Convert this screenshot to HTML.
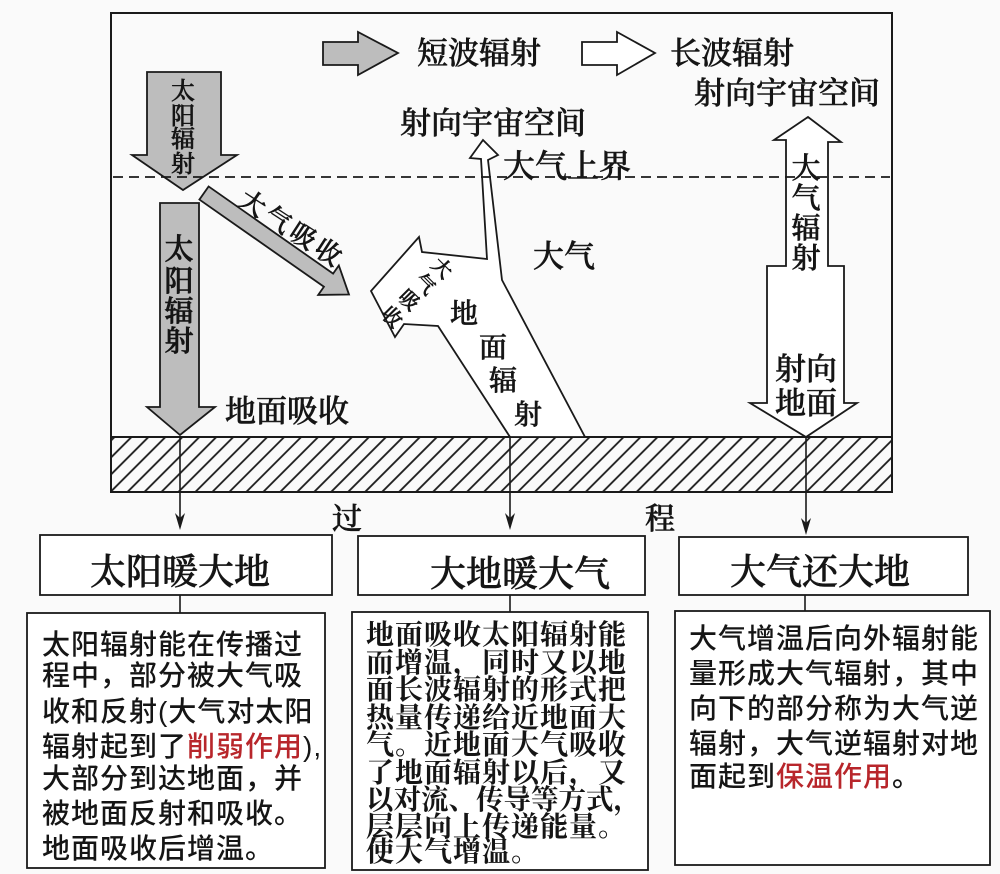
<!DOCTYPE html>
<html>
<head>
<meta charset="utf-8">
<style>
  html,body{margin:0;padding:0;background:#fafafa;}
  svg{display:block;}
  .lab{font-family:"Liberation Serif","Noto Serif CJK SC",serif;fill:#151515;font-weight:500;stroke:#151515;stroke-width:0.6;}
  .bd{font-family:"Liberation Sans","Noto Sans CJK SC",sans-serif;fill:#151515;font-weight:500;}
  .bs{font-family:"Liberation Serif","Noto Serif CJK SC",serif;fill:#151515;font-weight:700;}
  .red{fill:#b8262b;}
</style>
</head>
<body>
<svg width="1000" height="874" viewBox="0 0 1000 874" xmlns="http://www.w3.org/2000/svg">
  <defs>
    <pattern id="h" patternUnits="userSpaceOnUse" width="12" height="12" patternTransform="rotate(45)">
      <line x1="6" y1="-1" x2="6" y2="13" stroke="#1a1a1a" stroke-width="1.8"/>
    </pattern>
  </defs>
  <rect width="1000" height="874" fill="#fafafa"/>

  <!-- ground hatch -->
  <rect x="111" y="437" width="781" height="55" fill="url(#h)"/>
  <!-- frame -->
  <rect x="111" y="13" width="781" height="479" fill="none" stroke="#1a1a1a" stroke-width="2"/>
  <line x1="111" y1="437" x2="892" y2="437" stroke="#1a1a1a" stroke-width="2"/>

  <!-- legend arrows -->
  <polygon points="323,42 358,42 358,32 398,53 358,75 358,65 323,65" fill="#bdbdbd" stroke="#1a1a1a" stroke-width="1.8" stroke-linejoin="miter"/>
  <text class="lab" x="417" y="64" font-size="31">短波辐射</text>
  <polygon points="582,42 617,42 617,32 655,53 617,75 617,65 582,65" fill="#fff" stroke="#1a1a1a" stroke-width="1.8"/>
  <text class="lab" x="670" y="64" font-size="31">长波辐射</text>

  <text class="lab" x="694" y="104" font-size="31">射向宇宙空间</text>
  <text class="lab" x="400" y="134" font-size="31">射向宇宙空间</text>
  <text class="lab" x="503" y="177" font-size="32">大气上界</text>
  <text class="lab" x="533" y="267" font-size="31">大气</text>
  <text class="lab" x="225" y="422" font-size="31">地面吸收</text>

  <!-- upper solar arrow -->
  <polygon points="147,72 221,72 221,155 237,155 183,190 132,155 147,155" fill="#bdbdbd" stroke="#1a1a1a" stroke-width="1.8"/>
  <g class="lab" font-size="24" text-anchor="middle">
    <text x="183" y="99">太</text>
    <text x="183" y="124">阳</text>
    <text x="183" y="147">辐</text>
    <text x="183" y="172">射</text>
  </g>

  <!-- lower solar arrow -->
  <polygon points="160,203 199,203 199,407 215,407 180,435 147,407 160,407" fill="#bdbdbd" stroke="#1a1a1a" stroke-width="1.8"/>
  <g class="lab" font-size="29" text-anchor="middle" style="stroke-width:0.8">
    <text x="179" y="259">太</text>
    <text x="179" y="291">阳</text>
    <text x="179" y="321">辐</text>
    <text x="179" y="351">射</text>
  </g>

  <!-- diagonal atmosphere absorption arrow -->
  <g transform="translate(204,193) rotate(35)">
    <polygon points="0,-8 152,-8 152,-18 177,0 152,18 152,8 0,8" fill="#bdbdbd" stroke="#1a1a1a" stroke-width="1.8"/>
  </g>
  <text class="lab" font-size="26" letter-spacing="4" transform="translate(253,203) rotate(33)" x="-13" y="9.5">大气吸收</text>

  <!-- ground radiation shape -->
  <polygon points="510,437 438,326 404,324 395,337 371,291 419,237 422,252 487,259 481,159 470,158 483,140 498,155 488,160 502,280 585,437" fill="#fff" stroke="#1a1a1a" stroke-width="1.8" stroke-linejoin="miter"/>
  <g class="lab" font-size="20" text-anchor="middle">
    <text transform="translate(442,268) rotate(45)" y="7">大</text>
    <text transform="translate(425,284) rotate(45)" y="7">气</text>
    <text transform="translate(409,300) rotate(45)" y="7">吸</text>
    <text transform="translate(392,317) rotate(45)" y="7">收</text>
  </g>
  <g class="lab" font-size="28" text-anchor="middle">
    <text x="464" y="323">地</text>
    <text x="493" y="357">面</text>
    <text x="503" y="390">辐</text>
    <text x="528" y="424">射</text>
  </g>

  <!-- atmosphere radiation arrow -->
  <polygon points="808,117 841,142 828,142 828,266 844,266 844,403 857,403 806,437 750,403 767,403 767,266 786,266 786,140 774,140" fill="#fff" stroke="#1a1a1a" stroke-width="1.8"/>
  <g class="lab" font-size="29" text-anchor="middle">
    <text x="806" y="178">大</text>
    <text x="806" y="208">气</text>
    <text x="806" y="238">辐</text>
    <text x="806" y="268">射</text>
  </g>
  <text class="lab" x="775" y="380" font-size="31">射向</text>
  <text class="lab" x="775" y="414" font-size="31">地面</text>

  <!-- dashed top-of-atmosphere line -->
  <line x1="113" y1="177" x2="890" y2="177" stroke="#1a1a1a" stroke-width="1.8" stroke-dasharray="10 6"/>

  <!-- down arrows to boxes -->
  <g stroke="#1a1a1a" stroke-width="1.6">
    <line x1="180" y1="436" x2="180" y2="522"/>
    <line x1="510" y1="436" x2="510" y2="522"/>
    <line x1="806" y1="436" x2="806" y2="527"/>
  </g>
  <g fill="#1a1a1a">
    <polygon points="175,513 180,530 185,513 180,518"/>
    <polygon points="505,513 510,530 515,513 510,518"/>
    <polygon points="801,518 806,535 811,518 806,523"/>
  </g>

  <text class="lab" x="347" y="529" font-size="30" text-anchor="middle">过</text>
  <text class="lab" x="660" y="529" font-size="30" text-anchor="middle">程</text>

  <!-- box 1 -->
  <rect x="40" y="535" width="292" height="60" fill="#fff" stroke="#1a1a1a" stroke-width="1.8"/>
  <text class="lab" x="180" y="584" font-size="36" text-anchor="middle">太阳暖大地</text>
  <line x1="180" y1="595" x2="180" y2="613" stroke="#1a1a1a" stroke-width="1.6"/>
  <rect x="27" y="613" width="298" height="255" fill="#fff" stroke="#1a1a1a" stroke-width="1.8"/>
  <g class="bd" font-size="28" letter-spacing="1">
    <text x="42" y="654">太阳辐射能在传播过</text>
    <text x="42" y="685">程中，部分被大气吸</text>
    <text x="42" y="721">收和反射(大气对太阳</text>
    <text x="42" y="756">辐射起到了<tspan class="red">削弱作用</tspan>),</text>
    <text x="42" y="788">大部分到达地面，并</text>
    <text x="42" y="823">被地面反射和吸收。</text>
    <text x="42" y="858">地面吸收后增温。</text>
  </g>

  <!-- box 2 -->
  <rect x="358" y="536" width="287" height="59" fill="#fff" stroke="#1a1a1a" stroke-width="1.8"/>
  <text class="lab" x="520" y="586" font-size="36" text-anchor="middle">大地暖大气</text>
  <line x1="510" y1="595" x2="510" y2="612" stroke="#1a1a1a" stroke-width="1.6"/>
  <rect x="352" y="612" width="296" height="258" fill="#fff" stroke="#1a1a1a" stroke-width="1.8"/>
  <g class="bs" font-size="28" letter-spacing="1">
    <text x="366" y="644">地面吸收太阳辐射能</text>
    <text x="366" y="672">而增温，同时又以地</text>
    <text x="366" y="699">面长波辐射的形式把</text>
    <text x="366" y="727">热量传递给近地面大</text>
    <text x="366" y="754">气。近地面大气吸收</text>
    <text x="366" y="782">了地面辐射以后，又</text>
    <text x="366" y="809" letter-spacing="0" textLength="275" lengthAdjust="spacingAndGlyphs">以对流、传导等方式，</text>
    <text x="366" y="836">层层向上传递能量。</text>
    <text x="366" y="861">使大气增温。</text>
  </g>

  <!-- box 3 -->
  <rect x="679" y="537" width="289" height="58" fill="#fff" stroke="#1a1a1a" stroke-width="1.8"/>
  <text class="lab" x="820" y="584" font-size="36" text-anchor="middle">大气还大地</text>
  <line x1="805" y1="595" x2="805" y2="611" stroke="#1a1a1a" stroke-width="1.6"/>
  <rect x="675" y="611" width="315" height="254" fill="#fff" stroke="#1a1a1a" stroke-width="1.8"/>
  <g class="bd" font-size="28" letter-spacing="1">
    <text x="689" y="648">大气增温后向外辐射能</text>
    <text x="689" y="683">量形成大气辐射，其中</text>
    <text x="689" y="718">向下的部分称为大气逆</text>
    <text x="689" y="753">辐射，大气逆辐射对地</text>
    <text x="689" y="786">面起到<tspan class="red">保温作用</tspan>。</text>
  </g>
</svg>
</body>
</html>
